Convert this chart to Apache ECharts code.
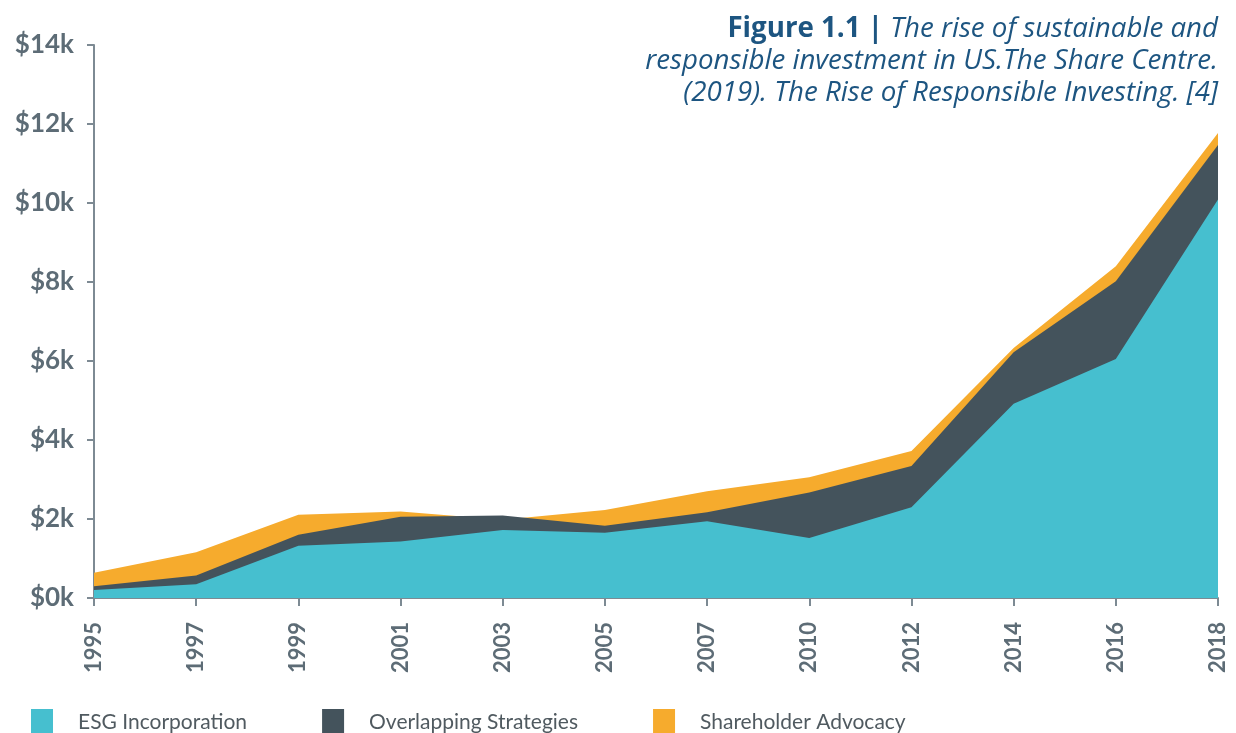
<!DOCTYPE html>
<html>
<head>
<meta charset="utf-8">
<script src="https://cdn.jsdelivr.net/npm/echarts@6/dist/echarts.min.js"></script>
<style>
  html, body { margin: 0; padding: 0; background: #fff; }
  #chart { width: 1236px; height: 733px; }
</style>
</head>
<body>
<div id="chart"></div>
<script>
// years on the x axis
const years = ['1995', '1997', '1999', '2001', '2003', '2005', '2007', '2010', '2012', '2014', '2016', '2018']
// top edge of each band, in $bn (areas are drawn overlapping, not stacked)
const esgTop = [200, 350, 1320, 1430, 1720, 1650, 1940, 1520, 2300, 4920, 6050, 10090]
const overlapTop = [300, 570, 1600, 2060, 2090, 1830, 2170, 2670, 3340, 6220, 8020, 11470]
const advocacyTop = [640, 1160, 2110, 2190, 1980, 2230, 2700, 3060, 3720, 6330, 8400, 11770]
// y tick values
const yMin = 0
const yMax = 14000
const yStep = 2000

const gray = '#5d6c76'
const axisGray = '#7d8a93'
const titleBlue = '#1d5581'
const chart = echarts.init(document.getElementById('chart'))

const areaSeries = (name, data, color, z) => ({
  name,
  type: 'line',
  data,
  z,
  symbol: 'none',
  lineStyle: { width: 0 },
  itemStyle: { color },
  areaStyle: { color, opacity: 1 }
})

chart.setOption({
  animation: false,
  graphic: [
    {
      type: 'text',
      right: 18,
      top: 13,
      style: {
        text: '{b|Figure 1.1 | }{i|The rise of sustainable and}\n{i|responsible investment in US.The Share Centre.}\n{i|(2019). The Rise of Responsible Investing. [4]}',
        align: 'right',
        lineHeight: 32,
        rich: {
          b: { fontFamily: 'Open Sans', fontWeight: 'bold', fontSize: 27.7, fill: titleBlue, lineHeight: 32, align: 'right' },
          i: { fontFamily: 'Open Sans', fontStyle: 'italic', fontWeight: 'normal', fontSize: 27.7, fill: titleBlue, lineHeight: 32, align: 'right' }
        }
      }
    }
  ],
  legend: {
    data: ['ESG Incorporation', 'Overlapping Strategies', 'Shareholder Advocacy'],
    left: 26,
    top: 704,
    itemWidth: 22,
    itemHeight: 26,
    itemGap: 75,
    icon: 'rect',
    textStyle: {
      fontFamily: 'Lato',
      fontSize: 21,
      color: '#505a60',
      padding: [0, 0, 0, 20]
    }
  },
  grid: {
    left: 94,
    right: 18,
    top: 45,
    bottom: 135
  },
  xAxis: {
    type: 'category',
    data: years,
    boundaryGap: false,
    axisLine: { lineStyle: { color: axisGray, width: 2 } },
    axisTick: { show: true, alignWithLabel: true, length: 8, lineStyle: { color: axisGray, width: 2 } },
    axisLabel: {
      rotate: 90,
      interval: 0,
      margin: 24,
      fontFamily: 'Lato',
      fontSize: 22,
      fontWeight: 'bold',
      color: gray
    }
  },
  yAxis: {
    type: 'value',
    min: yMin,
    max: yMax,
    interval: yStep,
    splitLine: { show: false },
    axisLine: { show: true, lineStyle: { color: axisGray, width: 2 } },
    axisTick: { show: true, length: 7, lineStyle: { color: axisGray, width: 2 } },
    axisLabel: {
      margin: 20,
      fontFamily: 'Lato',
      fontSize: 26,
      fontWeight: 'bold',
      color: gray,
      formatter: v => '$' + v / 1000 + 'k'
    }
  },
  series: [
    areaSeries('ESG Incorporation', esgTop, '#46bfcf', 4),
    areaSeries('Overlapping Strategies', overlapTop, '#44535c', 3),
    areaSeries('Shareholder Advocacy', advocacyTop, '#f6ab2d', 2)
  ]
})
</script>
</body>
</html>
